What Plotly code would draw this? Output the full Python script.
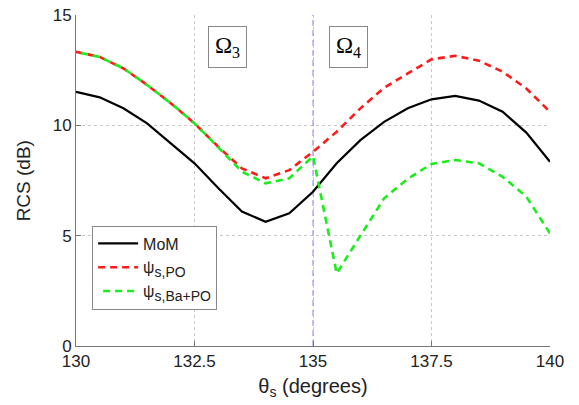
import plotly.graph_objects as go

theta = [130, 130.5, 131, 131.5, 132, 132.5, 133, 133.5, 134, 134.5, 135,
         135.5, 136, 136.5, 137, 137.5, 138, 138.5, 139, 139.5, 140]
mom = [11.52, 11.27, 10.77, 10.09, 9.18, 8.28, 7.16, 6.09, 5.63, 6.01, 6.99,
       8.28, 9.33, 10.16, 10.77, 11.18, 11.33, 11.12, 10.62, 9.67, 8.35]
po = [13.33, 13.1, 12.58, 11.83, 11.0, 10.09, 9.03, 8.05, 7.6, 7.97, 8.8,
      9.71, 10.77, 11.7, 12.35, 12.99, 13.15, 12.93, 12.43, 11.67, 10.61]
ba_po = [13.33, 13.1, 12.58, 11.83, 11.0, 10.09, 9.0, 7.9, 7.37, 7.6, 8.6,
         3.29, 5.0, 6.69, 7.58, 8.25, 8.43, 8.28, 7.67, 6.77, 5.1]
boundary = 135
x_ticks = [130, 132.5, 135, 137.5, 140]
y_ticks = [0, 5, 10, 15]

SUB = "<sub><span style='font-size:14px'>{}</span></sub>"

fig = go.Figure()
fig.add_trace(go.Scatter(x=[boundary, boundary], y=[0, 15], mode="lines",
                         line=dict(color="#9a9af5", width=1.2, dash="6px,4px"),
                         showlegend=False, hoverinfo="skip"))
fig.add_trace(go.Scatter(x=theta, y=mom, mode="lines", name="MoM",
                         line=dict(color="black", width=2.2)))
fig.add_trace(go.Scatter(x=theta, y=po, mode="lines", name="ψ" + SUB.format("s,PO"),
                         line=dict(color="#ff1a1a", width=2.6, dash="7px,5px")))
fig.add_trace(go.Scatter(x=theta, y=ba_po, mode="lines", name="ψ" + SUB.format("s,Ba+PO"),
                         line=dict(color="#1aee1a", width=2.6, dash="0px,5px,7px,0px")))

for xc, lab in [(133.19, "3"), (135.75, "4")]:
    fig.add_annotation(x=xc, y=13.55, text="Ω" + "<sub><span style='font-size:16px'>" + lab + "</span></sub>",
                       showarrow=False,
                       font=dict(family="Liberation Serif", size=23, color="black"),
                       bordercolor="#888", borderwidth=1, borderpad=6, bgcolor="white")

fig.add_annotation(xref="paper", yref="paper", x=-0.11, y=0.5, text="RCS (dB)",
                   textangle=-90, showarrow=False, xanchor="center", yanchor="middle",
                   font=dict(family="Liberation Sans", size=19, color="#222"))

fig.update_layout(
    width=579, height=405,
    margin=dict(l=76, r=29, t=15, b=59, autoexpand=False),
    plot_bgcolor="white", paper_bgcolor="white",
    font=dict(family="Liberation Sans", size=17, color="#222"),
    legend=dict(x=0.034, y=0.364, xanchor="left", yanchor="top",
                bgcolor="white", bordercolor="#888", borderwidth=1,
                font=dict(size=16, color="#222"), tracegroupgap=4, itemwidth=40),
    xaxis=dict(range=[130, 140], tickvals=x_ticks, ticktext=[str(v) for v in x_ticks],
               showgrid=True, gridcolor="#c8c8c8", griddash="dot", gridwidth=1,
               showline=True, linecolor="#777", linewidth=1, mirror=False,
               ticks="inside", ticklen=5, tickcolor="#777", zeroline=False,
               automargin=False,
               title=dict(text="θ" + SUB.format("s") + " (degrees)", standoff=8)),
    yaxis=dict(range=[0, 15], tickvals=y_ticks,
               showgrid=True, gridcolor="#c8c8c8", griddash="dot", gridwidth=1,
               showline=True, linecolor="#777", linewidth=1, mirror=False,
               ticks="inside", ticklen=5, tickcolor="#777", zeroline=False,
               automargin=False),
)

fig.write_html("out.html", config={"displayModeBar": False},
               post_script="document.body.style.margin='0';document.body.style.overflow='hidden';")
